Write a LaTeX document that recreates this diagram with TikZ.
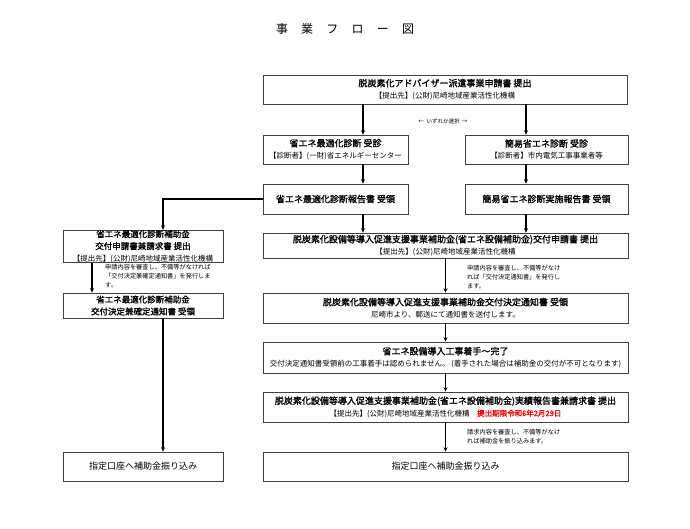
\documentclass[tikz,border=0pt]{standalone}
\usepackage{fontspec}
\setmainfont{Noto Sans CJK JP}[AutoFakeBold=1.5]
\usetikzlibrary{arrows.meta}
\newcommand{\hdtxt}{\bfseries\fontsize{9}{10.5}\selectfont}
\newcommand{\lhdtxt}{\bfseries\fontsize{8.5}{8.8}\selectfont}
\newcommand{\subtxt}{\mdseries\fontsize{7.5}{8.5}\selectfont}
\newcommand{\notetxt}{\fontsize{6.2}{9}\selectfont}
\begin{document}
\begin{tikzpicture}[x=1pt, y=-1pt,
    box/.style={draw=black!75, line width=0.7pt, fill=white, align=center, inner sep=0pt},
    arr/.style={-{Stealth[length=4.5pt, width=4pt]}, line width=1.3pt},
    note/.style={align=left, anchor=west, font=\notetxt, inner sep=0pt}]
    \useasboundingbox (0,0) rectangle (690,528);
    % columns of the arrows
    \coordinate (cLL) at (92,0);
    \coordinate (cL) at (163,0);
    \coordinate (cA) at (363,0);
    \coordinate (cB) at (526,0);
    \node (title) at (345,29) {\fontsize{12}{14}\selectfont 事\hspace{1.1em}業\hspace{1.1em}フ\hspace{1.1em}ロ\hspace{1.1em}ー\hspace{1.1em}図};
    % top
    \node[box, minimum width=364pt, minimum height=29pt] (apply) at (445,89.5) {{\hdtxt 脱炭素化アドバイザー派遣事業申請書 提出}\\{\subtxt 【提出先】(公財)尼崎地域産業活性化機構}};
    \node (choose) at (443,121) {\fontsize{5.5}{6}\selectfont ← \ いずれか選択 \ →};
    % diagnosis
    \node[box, minimum width=145pt, minimum height=29pt] (diagA) at (335.5,149.5) {{\hdtxt 省エネ最適化診断 受診}\\{\subtxt 【診断者】(一財)省エネルギーセンター}};
    \node[box, minimum width=163pt, minimum height=29pt] (diagB) at (546.5,149.5) {{\hdtxt 簡易省エネ診断 受診}\\{\subtxt 【診断者】市内電気工事事業者等}};
    \node[box, minimum width=145pt, minimum height=30pt] (repA) at (335.5,199) {\hdtxt 省エネ最適化診断報告書 受領};
    \node[box, minimum width=163pt, minimum height=30pt] (repB) at (546.5,199) {\hdtxt 簡易省エネ診断実施報告書 受領};
    % left column
    \node[box, minimum width=160pt, minimum height=29pt] (subL) at (143,246.5) {\lhdtxt 省エネ最適化診断補助金\\\lhdtxt 交付申請書兼請求書 提出\\\subtxt 【提出先】(公財)尼崎地域産業活性化機構};
    \node[box, minimum width=160pt, minimum height=25pt] (decL) at (143,305.5) {\lhdtxt 省エネ最適化診断補助金\\\lhdtxt 交付決定兼確定通知書 受領};
    \node[box, minimum width=160pt, minimum height=29pt] (payL) at (143,466.5) {\hdtxt\mdseries 指定口座へ補助金振り込み};
    % right column
    \node[box, minimum width=365pt, minimum height=25pt] (grant) at (445.5,245.5) {{\hdtxt 脱炭素化設備等導入促進支援事業補助金(省エネ設備補助金)交付申請書 提出}\\{\subtxt 【提出先】(公財)尼崎地域産業活性化機構}};
    \node[box, minimum width=365pt, minimum height=30pt] (dec) at (445.5,308) {{\hdtxt 脱炭素化設備等導入促進支援事業補助金交付決定通知書 受領}\\{\subtxt 尼崎市より、郵送にて通知書を送付します。}};
    \node[box, minimum width=365pt, minimum height=31pt] (work) at (445.5,357.5) {{\hdtxt 省エネ設備導入工事着手～完了}\\{\subtxt 交付決定通知書受領前の工事着手は認められません。 (着手された場合は補助金の交付が不可となります)}};
    \node[box, minimum width=365pt, minimum height=30pt] (report) at (445.5,407) {{\hdtxt 脱炭素化設備等導入促進支援事業補助金(省エネ設備補助金)実績報告書兼請求書 提出}\\{\subtxt 【提出先】(公財)尼崎地域産業活性化機構\quad{\bfseries\color{red}提出期限令和6年2月29日}}};
    \node[box, minimum width=365pt, minimum height=29pt] (payR) at (445.5,466.5) {\hdtxt\mdseries 指定口座へ補助金振り込み};
    % notes
    \node[note] (noteL) at (105,276) {申請内容を審査し、不備等がなければ\\「交付決定兼確定通知書」を発行しま\\す。};
    \node[note] (noteG) at (467,277) {申請内容を審査し、不備等がなけ\\れば「交付決定通知書」を発行し\\ます。};
    \node[note] (noteP) at (467,436.5) {請求内容を審査し、不備等がなけ\\れば補助金を振り込みます。};
    % arrows
    \draw[arr] (apply.south -| cA) -- (diagA.north -| cA);
    \draw[arr] (apply.south -| cB) -- (diagB.north -| cB);
    \draw[arr] (diagA.south -| cA) -- (repA.north -| cA);
    \draw[arr] (diagB.south -| cB) -- (repB.north -| cB);
    \draw[arr] (repA.south -| cA) -- (grant.north -| cA);
    \draw[arr] (repB.south -| cB) -- (grant.north -| cB);
    \draw[arr] (repA.west) -| (subL.north -| cL);
    \draw[arr] (subL.south -| cLL) -- (decL.north -| cLL);
    \draw[arr] (decL.south -| cL) -- (payL.north -| cL);
    \draw[arr] (grant) -- (dec);
    \draw[arr] (dec) -- (work);
    \draw[arr] (work) -- (report);
    \draw[arr] (report) -- (payR);
\end{tikzpicture}
\end{document}
